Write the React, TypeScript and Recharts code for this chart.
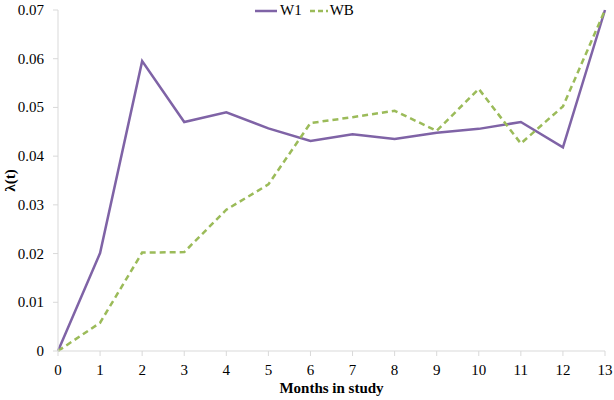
import React from 'react';
import { LineChart, Line, XAxis, YAxis, Legend, Label } from 'recharts';

const months = [0, 1, 2, 3, 4, 5, 6, 7, 8, 9, 10, 11, 12, 13];
const w1 = [0, 0.0201, 0.0595, 0.047, 0.049, 0.0457, 0.0431, 0.0445, 0.0435, 0.0448, 0.0456, 0.047, 0.0418, 0.07];
const wb = [0, 0.0058, 0.0202, 0.0203, 0.029, 0.0342, 0.0468, 0.048, 0.0493, 0.0452, 0.0538, 0.0426, 0.0502, 0.07];
const yTicks = [0, 0.01, 0.02, 0.03, 0.04, 0.05, 0.06, 0.07];
const yTickLabels = ['0', '0.01', '0.02', '0.03', '0.04', '0.05', '0.06', '0.07'];

const data = months.map((m, i) => ({ m, W1: w1[i], WB: wb[i] }));

const FONT = '"Liberation Serif", "Times New Roman", serif';
const PURPLE = '#7f63a6';
const GREEN = '#9bbb59';

const XTick = (props: any) => {
  const { x, y, payload } = props;
  return (
    <text x={x} y={y + 17} textAnchor="middle" fontFamily={FONT} fontSize={15} fill="#000">
      {String(payload.value)}
    </text>
  );
};

const YTick = (props: any) => {
  const { x, y, payload } = props;
  const idx = yTicks.findIndex((t) => Math.abs(t - payload.value) < 1e-9);
  return (
    <text x={44} y={y + 5} textAnchor="end" fontFamily={FONT} fontSize={15} fill="#000">
      {idx >= 0 ? yTickLabels[idx] : String(payload.value)}
    </text>
  );
};

const YLabel = (props: any) => {
  const { viewBox } = props;
  const cy = viewBox.y + viewBox.height / 2;
  return (
    <text x={15} y={cy} transform={`rotate(-90, 15, ${cy})`} textAnchor="middle" fontFamily={FONT} fontSize={15} fontWeight="bold" fill="#000">
      λ(t)
    </text>
  );
};

const XLabel = (props: any) => {
  const { viewBox } = props;
  const cx = viewBox.x + viewBox.width / 2;
  return (
    <text x={cx} y={393} textAnchor="middle" fontFamily={FONT} fontSize={15} fontWeight="bold" fill="#000">
      Months in study
    </text>
  );
};

const LegendContent = () => (
  <div style={{ display: 'flex', alignItems: 'center', fontFamily: FONT, fontSize: 15, color: '#000' }}>
    <svg width={22} height={10} style={{ marginRight: 3 }}>
      <line x1={0} y1={5} x2={22} y2={5} stroke={PURPLE} strokeWidth={2.5} />
    </svg>
    <span style={{ marginRight: 8 }}>W1</span>
    <svg width={18} height={10} style={{ marginRight: 2 }}>
      <line x1={0} y1={5} x2={18} y2={5} stroke={GREEN} strokeWidth={2.5} strokeDasharray="5 3" />
    </svg>
    <span>WB</span>
  </div>
);

export default function App() {
  return (
    <div style={{ position: 'absolute', left: 0, top: 0, background: '#fff' }}>
      <LineChart width={614} height={400} data={data} margin={{ top: 10, right: 9, bottom: 19, left: 0 }}>
        <XAxis
          dataKey="m"
          type="number"
          domain={[0, 13]}
          ticks={months}
          interval={0}
          stroke="#d9d9d9"
          tickSize={5}
          tick={<XTick />}
          height={30}
        >
          <Label content={<XLabel />} />
        </XAxis>
        <YAxis
          type="number"
          domain={[0, 0.07]}
          ticks={yTicks}
          interval={0}
          width={58}
          stroke="#d9d9d9"
          tickSize={5}
          tick={<YTick />}
        >
          <Label content={<YLabel />} />
        </YAxis>
        <Legend verticalAlign="middle" align="center" wrapperStyle={{ top: 2, left: 255, width: 'auto' }} content={<LegendContent />} />
        <Line dataKey="W1" stroke={PURPLE} strokeWidth={2.5} dot={false} isAnimationActive={false} />
        <Line dataKey="WB" stroke={GREEN} strokeWidth={2.5} strokeDasharray="6 4" dot={false} isAnimationActive={false} />
      </LineChart>
    </div>
  );
}
